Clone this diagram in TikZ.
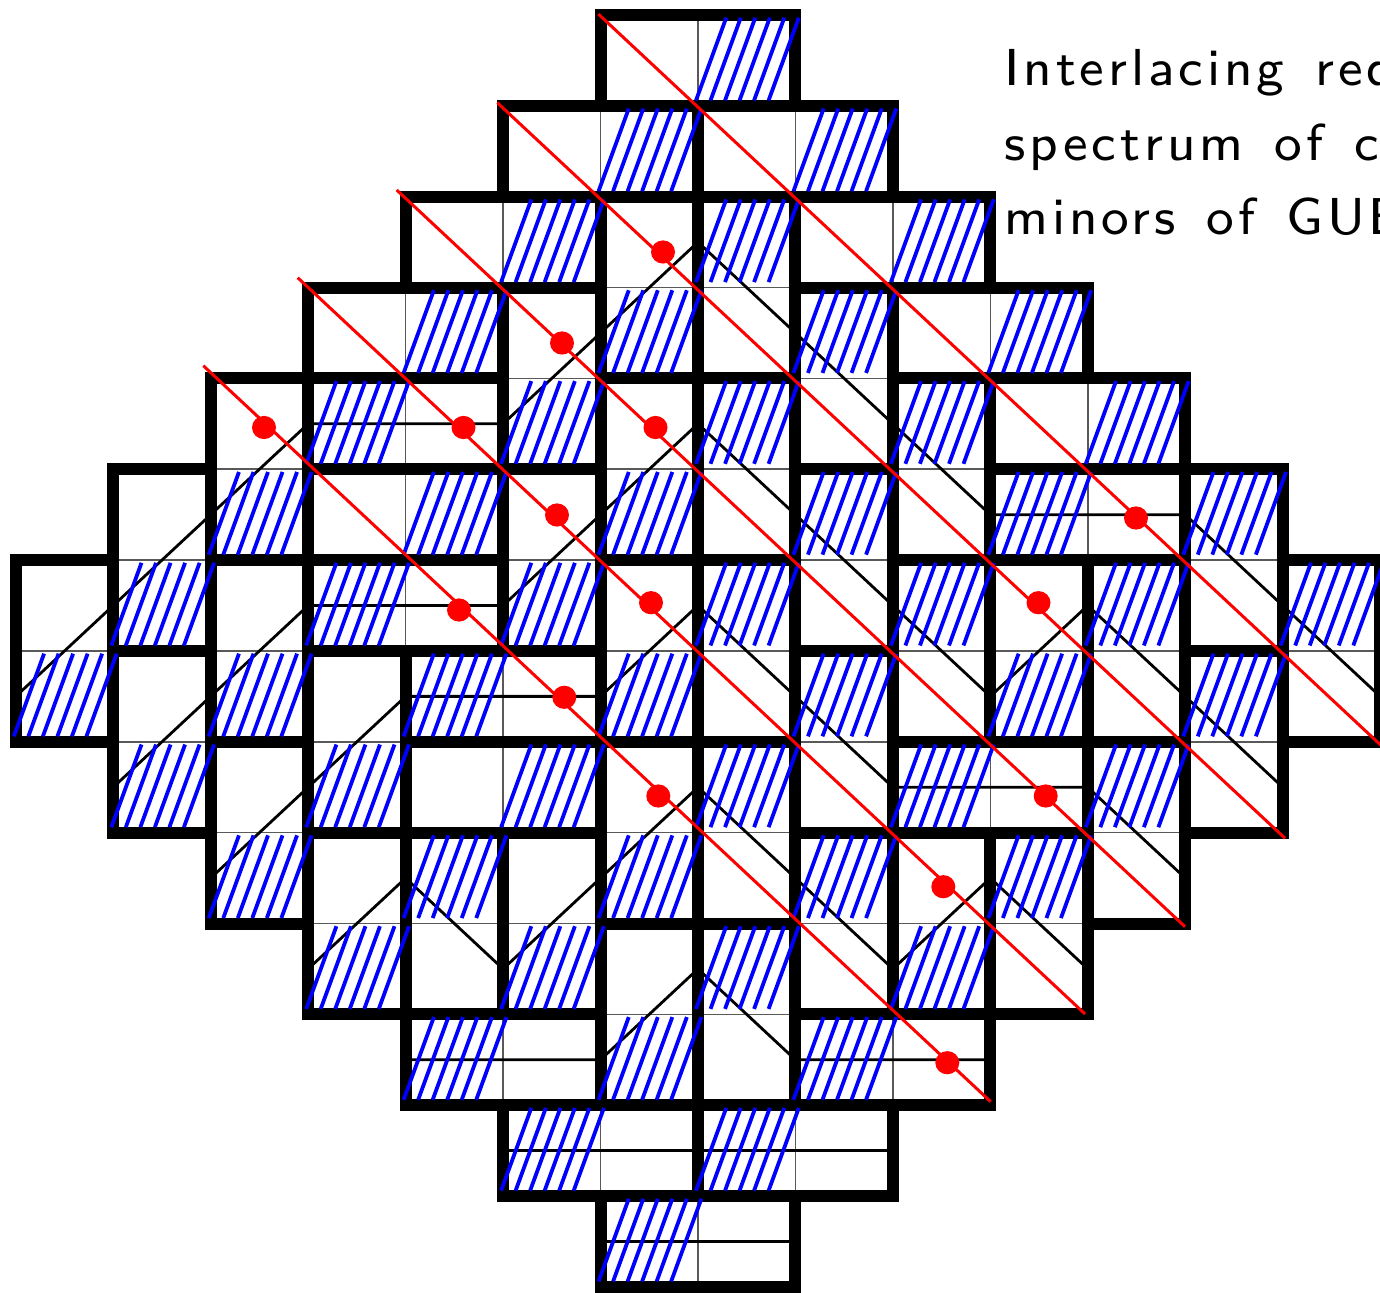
\documentclass[tikz,border=0pt]{standalone}
\usepackage{fontspec}
\newfontfamily\capfont{lmsans8-regular.otf}[LetterSpace=7.5,WordSpace=1.4]
\begin{document}
\begin{tikzpicture}[x=0.5pt,y=-0.5pt,
  thinline/.style={line width=0.75pt, draw=black!65},
  domino/.style={line width=6pt, draw=black, line join=miter},
  pathline/.style={line width=1.4pt, draw=black, line join=round},
  hatchline/.style={line width=1.9pt, draw=blue},
  redline/.style={line width=1.5pt, draw=red},
  reddot/.style={fill=red},
  caption/.style={anchor=base west, inner sep=0pt, font=\fontsize{26pt}{30pt}\capfont}]
\useasboundingbox (0,0) rectangle (1380,1293);
\begin{scope}[shift={(15.8,15)}, x=48.725pt, y=-45.425pt]
  % thin cell grid
  \foreach \r in {0,...,13}{
    \pgfmathtruncatemacro\a{\r<7 ? 6-\r : \r-7}
    \pgfmathtruncatemacro\b{\r<7 ? 7+\r : 20-\r}
    \foreach \c in {\a,...,\b}{
      \draw[thinline] (\c,\r) rectangle ++(1,1);
    }
  }
  % non-intersecting lattice paths
  \draw[pathline] (0,7.5) -- (1,6.5) -- (2,5.5) -- (3,4.5) -- (5,4.5) -- (6,3.5) -- (7,2.5) -- (8,3.5) -- (9,4.5) -- (10,5.5) -- (12,5.5) -- (13,6.5) -- (14,7.5);
  \draw[pathline] (1,8.5) -- (2,7.5) -- (3,6.5) -- (5,6.5) -- (6,5.5) -- (7,4.5) -- (8,5.5) -- (9,6.5) -- (10,7.5) -- (11,6.5) -- (12,7.5) -- (13,8.5);
  \draw[pathline] (2,9.5) -- (3,8.5) -- (4,7.5) -- (6,7.5) -- (7,6.5) -- (8,7.5) -- (9,8.5) -- (11,8.5) -- (12,9.5);
  \draw[pathline] (3,10.5) -- (4,9.5) -- (5,10.5) -- (6,9.5) -- (7,8.5) -- (8,9.5) -- (9,10.5) -- (10,9.5) -- (11,10.5);
  \draw[pathline] (4,11.5) -- (6,11.5) -- (7,10.5) -- (8,11.5) -- (10,11.5);
  \draw[pathline] (5,12.5) -- (9,12.5);
  \draw[pathline] (6,13.5) -- (8,13.5);
  % horizontal dominoes
  \foreach \c/\r in {6/0,5/1,7/1,4/2,8/2,3/3,9/3,3/4,10/4,3/5,10/5,3/6,4/7,4/8,9/8,4/11,8/11,5/12,7/12,6/13}{
    \draw[domino] (\c,\r) rectangle ++(2,1);
  }
  % vertical dominoes
  \foreach \c/\r in {6/2,7/2,5/3,8/3,2/4,6/4,7/4,9/4,1/5,5/5,8/5,12/5,0/6,2/6,6/6,7/6,9/6,10/6,11/6,13/6,1/7,3/7,8/7,12/7,2/8,6/8,7/8,11/8,3/9,4/9,5/9,8/9,9/9,10/9,6/10,7/10}{
    \draw[domino] (\c,\r) rectangle ++(1,2);
  }
  % hatching of the odd cells
  \foreach \r in {0,...,13}{
    \pgfmathtruncatemacro\a{\r<7 ? 6-\r : \r-7}
    \pgfmathtruncatemacro\b{\r<7 ? 7+\r : 20-\r}
    \foreach \c in {\a,...,\b}{
      \pgfmathtruncatemacro\s{mod(\c+\r,2)}
      \ifnum\s=1
        \foreach \k in {0,...,5}{
          \draw[hatchline] ({\c-0.02+0.149*\k},{\r+0.94}) -- ({\c+0.29+0.149*\k},{\r+0.03});
        }
      \fi
    }
  }
\end{scope}
% red diagonals
\draw[redline] (598.3,14) -- (1387,751);
\draw[redline] (497.3,102.7) -- (1285,838.3);
\draw[redline] (396.7,190) -- (1185,926.7);
\draw[redline] (297.7,277.7) -- (1085,1014);
\draw[redline] (203.3,365.7) -- (990.7,1101.7);
% red dots
\foreach \x/\y in {663/252, 562/343, 463.5/427.5, 655.5/427.5, 264/427.5, 557/515, 1136/518, 651/602.7, 1038.5/602.7, 459/610, 564.3/697.3, 658.3/796, 1045.7/796, 943.3/886.7, 947.3/1062.7}{
  \fill[reddot] (\x,\y) ellipse [x radius=6pt, y radius=5.8pt];
}
% caption
\node[caption] (t1) at (1004,86) {Interlacing red dots:};
\node[caption] (t2) at (1004,160.7) {spectrum of corner};
\node[caption] (t3) at (1004,235) {minors of GUE};
\end{tikzpicture}
\end{document}
